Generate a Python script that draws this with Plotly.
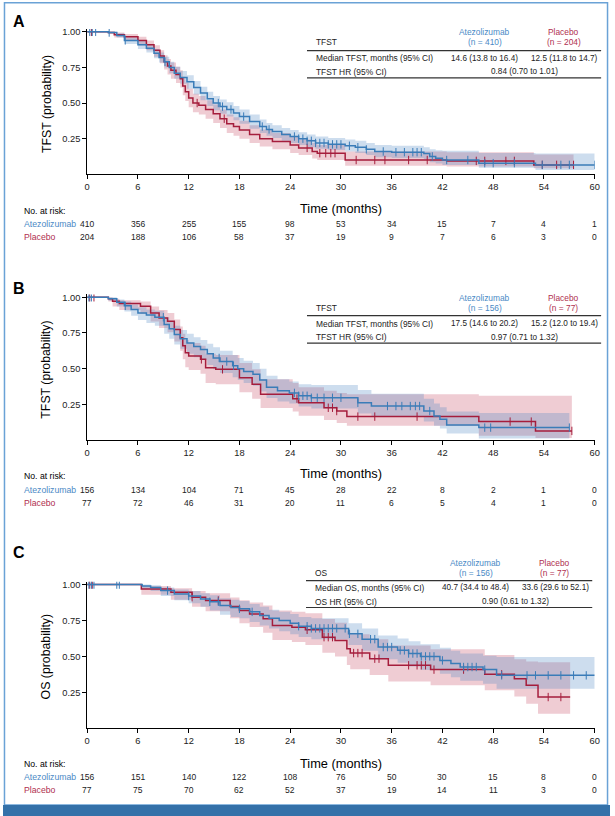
import numpy as np
import plotly.graph_objects as go

W, H = 615, 816
BLUE = "#3a7cb8"
RED = "#a51d3c"
BLUE_BAND = "rgba(74,134,194,0.28)"
RED_BAND = "rgba(190,50,80,0.25)"
BLUE_TXT = "#4b8ac6"
RED_TXT = "#b0304f"
FONT = "Liberation Sans, Arial, sans-serif"

TICKS_X = [0, 6, 12, 18, 24, 30, 36, 42, 48, 54, 60]

# ---------------- Panel A (TFST, all patients) ----------------
A_atezo_t = [0, 2.5, 3.5, 4.4, 6, 7, 7.9, 8.5, 9.1, 9.7, 10.3, 11, 11.8, 12.6, 13.4, 14.2, 14.9, 15.7, 16.5, 17.3, 18, 19.2, 20.4, 21.2, 21.9, 23, 24, 25, 26, 27, 28.5, 30.5, 31.7, 33, 34, 36, 39.8, 40.5, 41.2, 42, 46.3, 53, 60]
A_atezo_s = [1.0, 0.995, 0.975, 0.94, 0.91, 0.885, 0.85, 0.82, 0.79, 0.75, 0.71, 0.68, 0.65, 0.61, 0.57, 0.53, 0.50, 0.475, 0.455, 0.43, 0.405, 0.37, 0.335, 0.315, 0.30, 0.28, 0.265, 0.25, 0.235, 0.22, 0.21, 0.20, 0.19, 0.175, 0.16, 0.155, 0.145, 0.125, 0.112, 0.10, 0.078, 0.066, 0.066]
A_atezo_lo = [1.0, 0.99, 0.96, 0.915, 0.88, 0.855, 0.815, 0.785, 0.75, 0.71, 0.67, 0.635, 0.60, 0.56, 0.52, 0.48, 0.45, 0.425, 0.405, 0.38, 0.355, 0.32, 0.29, 0.27, 0.255, 0.235, 0.22, 0.205, 0.19, 0.18, 0.17, 0.16, 0.15, 0.135, 0.12, 0.115, 0.105, 0.085, 0.075, 0.065, 0.045, 0.03, 0.03]
A_atezo_hi = [1.0, 1.0, 0.99, 0.96, 0.935, 0.915, 0.88, 0.855, 0.825, 0.79, 0.755, 0.725, 0.695, 0.655, 0.615, 0.58, 0.55, 0.525, 0.505, 0.48, 0.455, 0.42, 0.385, 0.36, 0.345, 0.325, 0.31, 0.295, 0.28, 0.265, 0.255, 0.245, 0.235, 0.22, 0.205, 0.20, 0.19, 0.175, 0.168, 0.165, 0.15, 0.145, 0.145]
A_atezo_cens = [0.3, 0.6, 1.0, 2.6, 4.5, 9.2, 15.5, 16.0, 17.0, 18.5, 20.7, 21.5, 24.5, 25.0, 25.5, 26.0, 26.5, 27.0, 27.5, 28.0, 28.5, 29.0, 29.5, 30.0, 31.0, 32.0, 33.0, 35.0, 36.5, 37.5, 38.5, 39.0, 39.5, 40.8, 42.5, 45.0, 47.0, 48.0, 50.5, 53.8, 56.0, 57.0, 60.0]

A_pla_t = [0, 2.5, 3.2, 4.4, 6, 7, 7.9, 8.6, 9.1, 9.5, 9.9, 10.5, 11, 11.3, 11.6, 12, 12.5, 13.2, 14, 14.9, 15.7, 16.5, 17.3, 18, 19.2, 20.4, 21.9, 24, 25, 26.6, 27.2, 30.5, 42.5, 52.8, 57.5]
A_pla_s = [1.0, 0.995, 0.98, 0.965, 0.94, 0.91, 0.87, 0.83, 0.79, 0.76, 0.73, 0.70, 0.67, 0.62, 0.58, 0.535, 0.50, 0.485, 0.455, 0.425, 0.39, 0.355, 0.335, 0.31, 0.28, 0.25, 0.23, 0.205, 0.185, 0.16, 0.148, 0.10, 0.094, 0.066, 0.066]
A_pla_lo = [1.0, 0.985, 0.96, 0.94, 0.905, 0.87, 0.825, 0.78, 0.735, 0.70, 0.67, 0.64, 0.61, 0.555, 0.515, 0.47, 0.435, 0.42, 0.39, 0.36, 0.325, 0.29, 0.27, 0.25, 0.22, 0.195, 0.175, 0.15, 0.135, 0.11, 0.10, 0.06, 0.055, 0.042, 0.042]
A_pla_hi = [1.0, 1.0, 0.995, 0.985, 0.965, 0.94, 0.905, 0.87, 0.835, 0.81, 0.785, 0.755, 0.73, 0.685, 0.645, 0.60, 0.565, 0.55, 0.52, 0.49, 0.455, 0.42, 0.40, 0.375, 0.345, 0.315, 0.29, 0.265, 0.245, 0.22, 0.205, 0.16, 0.155, 0.138, 0.138]
A_pla_cens = [0.5, 13.0, 16.2, 26.0, 27.5, 28.2, 28.8, 29.3, 31.8, 34.0, 35.2, 38.0, 40.2, 46.0, 47.0, 49.5, 50.5, 53.8, 55.5, 57.5]

# ---------------- Panel B (TFST, subgroup) ----------------
B_atezo_t = [0, 2.5, 3.5, 4.4, 5.2, 6, 7, 8, 9.1, 9.7, 10.3, 11, 11.8, 12.6, 13.4, 14.2, 14.9, 15.7, 17.2, 17.8, 18.5, 19.6, 20.4, 21.2, 22.5, 23.9, 25, 26.5, 32, 33.6, 39.8, 41, 41.7, 42.5, 46.3, 57]
B_atezo_s = [1.0, 0.99, 0.965, 0.94, 0.915, 0.89, 0.875, 0.86, 0.81, 0.78, 0.74, 0.71, 0.68, 0.655, 0.635, 0.605, 0.575, 0.55, 0.52, 0.50, 0.48, 0.46, 0.42, 0.37, 0.345, 0.33, 0.31, 0.296, 0.261, 0.238, 0.203, 0.168, 0.145, 0.105, 0.087, 0.087]
B_atezo_lo = [1.0, 0.975, 0.935, 0.90, 0.87, 0.84, 0.82, 0.80, 0.745, 0.71, 0.67, 0.64, 0.605, 0.58, 0.56, 0.525, 0.495, 0.47, 0.44, 0.42, 0.40, 0.38, 0.34, 0.295, 0.27, 0.255, 0.235, 0.22, 0.185, 0.165, 0.13, 0.10, 0.08, 0.045, 0.01, 0.01]
B_atezo_hi = [1.0, 1.0, 0.985, 0.97, 0.95, 0.93, 0.915, 0.905, 0.86, 0.835, 0.80, 0.77, 0.745, 0.72, 0.70, 0.675, 0.65, 0.625, 0.595, 0.575, 0.555, 0.54, 0.50, 0.45, 0.425, 0.41, 0.39, 0.385, 0.35, 0.325, 0.29, 0.255, 0.23, 0.20, 0.19, 0.19]
B_atezo_cens = [0.2, 0.5, 4.5, 9.0, 15.6, 16.5, 17.3, 24.5, 25.0, 25.5, 26.0, 26.5, 27.2, 28.0, 29.0, 30.0, 32.0, 35.5, 36.5, 37.2, 38.2, 38.8, 39.3, 40.5, 47.0, 47.7, 57.0]

B_pla_t = [0, 2.5, 3, 3.8, 6.3, 7.5, 8.5, 9.5, 10.3, 11, 11.3, 11.6, 12, 13.4, 14, 15.2, 18, 19.5, 20.5, 24.3, 25, 28, 29.5, 30.7, 46.3, 53, 57.3]
B_pla_s = [1.0, 0.99, 0.972, 0.956, 0.937, 0.89, 0.855, 0.832, 0.774, 0.716, 0.66, 0.611, 0.588, 0.565, 0.506, 0.495, 0.436, 0.39, 0.32, 0.29, 0.261, 0.226, 0.203, 0.164, 0.129, 0.064, 0.064]
B_pla_lo = [1.0, 0.97, 0.935, 0.91, 0.885, 0.83, 0.785, 0.755, 0.69, 0.625, 0.565, 0.51, 0.49, 0.465, 0.40, 0.39, 0.335, 0.29, 0.225, 0.20, 0.17, 0.14, 0.12, 0.10, 0.03, 0.015, 0.015]
B_pla_hi = [1.0, 1.0, 0.99, 0.98, 0.97, 0.935, 0.91, 0.89, 0.845, 0.795, 0.745, 0.70, 0.68, 0.66, 0.605, 0.595, 0.54, 0.495, 0.425, 0.40, 0.37, 0.345, 0.33, 0.32, 0.31, 0.31, 0.31]
B_pla_cens = [0.3, 0.8, 13.5, 16.0, 24.8, 28.5, 29.0, 29.5, 32.0, 34.0, 39.0, 50.0, 52.5, 57.3]

# ---------------- Panel C (OS, subgroup) ----------------
C_atezo_t = [0, 6, 6.5, 7.5, 8.7, 10.3, 12, 13.4, 14.5, 15.7, 17, 18, 19.2, 20.4, 21.5, 22.7, 24, 25, 26.5, 30.9, 32.5, 34.4, 36.7, 38, 39.4, 41.7, 43, 44.1, 46.8, 48.4, 60]
C_atezo_s = [1.0, 1.0, 0.99, 0.98, 0.958, 0.935, 0.92, 0.90, 0.88, 0.854, 0.84, 0.831, 0.81, 0.785, 0.765, 0.75, 0.73, 0.71, 0.695, 0.657, 0.62, 0.565, 0.542, 0.52, 0.50, 0.472, 0.45, 0.426, 0.408, 0.368, 0.368]
C_atezo_lo = [1.0, 1.0, 0.97, 0.955, 0.92, 0.89, 0.87, 0.845, 0.82, 0.79, 0.775, 0.765, 0.74, 0.715, 0.695, 0.675, 0.655, 0.635, 0.62, 0.58, 0.54, 0.48, 0.455, 0.43, 0.405, 0.38, 0.355, 0.33, 0.31, 0.275, 0.275]
C_atezo_hi = [1.0, 1.0, 1.0, 0.995, 0.98, 0.965, 0.955, 0.94, 0.925, 0.905, 0.895, 0.885, 0.865, 0.845, 0.825, 0.81, 0.795, 0.775, 0.765, 0.73, 0.695, 0.645, 0.625, 0.605, 0.585, 0.56, 0.54, 0.52, 0.505, 0.495, 0.495]
C_atezo_cens = [0.2, 0.5, 0.8, 3.5, 3.8, 9.5, 12.0, 14.5, 15.5, 18.0, 19.5, 25.0, 26.0, 26.5, 27.0, 27.5, 28.0, 28.5, 29.0, 29.5, 30.5, 31.0, 32.0, 33.5, 34.0, 35.0, 35.5, 36.0, 37.0, 37.5, 38.0, 38.5, 39.0, 39.5, 40.0, 40.5, 41.0, 42.0, 44.5, 45.0, 45.5, 46.0, 47.0, 49.0, 52.0, 53.0, 54.5, 56.0, 57.5, 59.0]

C_pla_t = [0, 6.4, 9.9, 12.4, 14, 16.9, 18, 19.2, 20.8, 21.9, 24.2, 25.8, 27.8, 29.3, 30.7, 31.1, 33.4, 35.6, 40.6, 47, 50.5, 51.9, 53.3, 57.1]
C_pla_s = [1.0, 0.97, 0.947, 0.912, 0.889, 0.847, 0.819, 0.796, 0.762, 0.715, 0.703, 0.685, 0.634, 0.611, 0.553, 0.523, 0.484, 0.438, 0.408, 0.375, 0.345, 0.299, 0.217, 0.217]
C_pla_lo = [1.0, 0.93, 0.895, 0.845, 0.815, 0.765, 0.73, 0.705, 0.665, 0.615, 0.60, 0.58, 0.525, 0.50, 0.44, 0.41, 0.37, 0.325, 0.30, 0.265, 0.22, 0.17, 0.10, 0.10]
C_pla_hi = [1.0, 0.99, 0.975, 0.955, 0.94, 0.91, 0.89, 0.875, 0.855, 0.82, 0.81, 0.80, 0.76, 0.735, 0.68, 0.655, 0.62, 0.575, 0.55, 0.51, 0.48, 0.465, 0.46, 0.46]
C_pla_cens = [0.3, 0.6, 12.4, 15.5, 26.0, 28.0, 28.5, 29.0, 31.5, 32.0, 32.5, 34.0, 34.5, 38.0, 39.0, 39.5, 40.0, 41.0, 44.5, 49.0, 54.5, 56.0]

# ---------------- Numbers at risk ----------------
A_risk_atezo = [410, 356, 255, 155, 98, 53, 34, 15, 7, 4, 1]
A_risk_pla = [204, 188, 106, 58, 37, 19, 9, 7, 6, 3, 0]
B_risk_atezo = [156, 134, 104, 71, 45, 28, 22, 8, 2, 1, 0]
B_risk_pla = [77, 72, 46, 31, 20, 11, 6, 5, 4, 1, 0]
C_risk_atezo = [156, 151, 140, 122, 108, 76, 50, 30, 15, 8, 0]
C_risk_pla = [77, 75, 70, 62, 52, 37, 19, 14, 11, 3, 0]

# ---------------- Summary tables ----------------
A_table = {"endpoint": "TFST", "n_atezo": "(n = 410)", "n_pla": "(n = 204)",
           "med_label": "Median TFST, months (95% CI)", "med_atezo": "14.6 (13.8 to 16.4)",
           "med_pla": "12.5 (11.8 to 14.7)", "hr_label": "TFST HR (95% CI)", "hr": "0.84 (0.70 to 1.01)"}
B_table = {"endpoint": "TFST", "n_atezo": "(n = 156)", "n_pla": "(n = 77)",
           "med_label": "Median TFST, months (95% CI)", "med_atezo": "17.5 (14.6 to 20.2)",
           "med_pla": "15.2 (12.0 to 19.4)", "hr_label": "TFST HR (95% CI)", "hr": "0.97 (0.71 to 1.32)"}
C_table = {"endpoint": "OS", "n_atezo": "(n = 156)", "n_pla": "(n = 77)",
           "med_label": "Median OS, months (95% CI)", "med_atezo": "40.7 (34.4 to 48.4)",
           "med_pla": "33.6 (29.6 to 52.1)", "hr_label": "OS HR (95% CI)", "hr": "0.90 (0.61 to 1.32)"}


def px(x):
    return x / W


def py(y):
    return 1 - y / H


def step_at(ts, ss, t):
    ts = np.asarray(ts)
    idx = np.searchsorted(ts, t, side="right") - 1
    return float(np.asarray(ss)[max(idx, 0)])


fig = go.Figure()
annotations = []
shapes = []

panels = [
    dict(key="", letter="A", ytitle="TFST (probability)", zero=172.7, unit=142.8, letter_y=20,
         atezo=(A_atezo_t, A_atezo_s, A_atezo_lo, A_atezo_hi, A_atezo_cens),
         pla=(A_pla_t, A_pla_s, A_pla_lo, A_pla_hi, A_pla_cens),
         risk=(A_risk_atezo, A_risk_pla), table=A_table,
         time_y=206.7, risk_y=(209.5, 222.7, 236.0),
         tab=dict(x0=308, x1=606, xl=316, xa=488, xp=568, xh=528, yh1=30, yh2=40.5, l1=48.7, r1=56.5, r2=70, l2=76)),
    dict(key="2", letter="B", ytitle="TFST (probability)", zero=439.1, unit=143.1, letter_y=287,
         atezo=(B_atezo_t, B_atezo_s, B_atezo_lo, B_atezo_hi, B_atezo_cens),
         pla=(B_pla_t, B_pla_s, B_pla_lo, B_pla_hi, B_pla_cens),
         risk=(B_risk_atezo, B_risk_pla), table=B_table,
         time_y=473, risk_y=(475.5, 489, 502),
         tab=dict(x0=308, x1=606, xl=316, xa=488, xp=568, xh=528, yh1=296.7, yh2=306.7, l1=314.3, r1=322.3, r2=336, l2=342)),
    dict(key="3", letter="C", ytitle="OS (probability)", zero=728.0, unit=144.0, letter_y=552,
         atezo=(C_atezo_t, C_atezo_s, C_atezo_lo, C_atezo_hi, C_atezo_cens),
         pla=(C_pla_t, C_pla_s, C_pla_lo, C_pla_hi, C_pla_cens),
         risk=(C_risk_atezo, C_risk_pla), table=C_table,
         time_y=763, risk_y=(764, 777, 790),
         tab=dict(x0=307, x1=597, xl=315, xa=479, xp=559, xh=519, yh1=562, yh2=572, l1=580, r1=587.3, r2=601, l2=607)),
]

YMAX = 1.02
X_LEFT, X_RIGHT = 85.3, 599.5

for p in panels:
    k = p["key"]
    xa = "x" + k
    ya = "y" + k
    top_px = p["zero"] - YMAX * p["unit"]
    for (ts, ss, lo, hi, cens), band in [(p["pla"], RED_BAND), (p["atezo"], BLUE_BAND)]:
        fig.add_trace(go.Scatter(x=ts, y=lo, mode="lines", line=dict(width=0, shape="hv"),
                                 xaxis=xa, yaxis=ya, showlegend=False, hoverinfo="skip"))
        fig.add_trace(go.Scatter(x=ts, y=hi, mode="lines", line=dict(width=0, shape="hv"),
                                 fill="tonexty", fillcolor=band,
                                 xaxis=xa, yaxis=ya, showlegend=False, hoverinfo="skip"))
    for (ts, ss, lo, hi, cens), col in [(p["pla"], RED), (p["atezo"], BLUE)]:
        fig.add_trace(go.Scatter(x=ts, y=ss, mode="lines", line=dict(width=1.5, color=col, shape="hv"),
                                 xaxis=xa, yaxis=ya, showlegend=False))
        cy = [step_at(ts, ss, c) for c in cens]
        fig.add_trace(go.Scatter(x=cens, y=cy, mode="markers",
                                 marker=dict(symbol="line-ns", size=6, line=dict(width=1, color=col)),
                                 xaxis=xa, yaxis=ya, showlegend=False))

    axis_common = dict(showgrid=False, zeroline=False, showline=True, linecolor="black", linewidth=1,
                       ticks="outside", ticklen=4, tickcolor="black", tickwidth=1,
                       tickfont=dict(family=FONT, size=9.3, color="#222"))
    fig.update_layout(**{
        "xaxis" + k: dict(domain=[px(X_LEFT), px(X_RIGHT)], range=[0, 60], tickvals=TICKS_X,
                          anchor=ya, **axis_common),
        "yaxis" + k: dict(domain=[py(p["zero"]), py(top_px)], range=[0, YMAX],
                          tickvals=[0.25, 0.5, 0.75, 1.0], ticktext=["0.25", "0.50", "0.75", "1.00"],
                          anchor=xa, **axis_common),
    })

    annotations.append(dict(x=px(8.5), y=py(p["letter_y"]), xref="paper", yref="paper", text="<b>%s</b>" % p["letter"],
                            showarrow=False, xanchor="left", yanchor="middle",
                            font=dict(family=FONT, size=16, color="black")))
    annotations.append(dict(x=px(44), y=py((p["zero"] + top_px) / 2 + 2), xref="paper", yref="paper",
                            text=p["ytitle"], textangle=-90, showarrow=False,
                            xanchor="center", yanchor="middle",
                            font=dict(family=FONT, size=12.3, color="black")))
    annotations.append(dict(x=30, y=py(p["time_y"]), xref=xa, yref="paper", text="Time (months)",
                            showarrow=False, xanchor="center", yanchor="middle",
                            font=dict(family=FONT, size=12.8, color="black")))
    ry_head, ry_a, ry_p = p["risk_y"]
    annotations.append(dict(x=px(19.5), y=py(ry_head), xref="paper", yref="paper", text="No. at risk:",
                            showarrow=False, xanchor="left", yanchor="middle",
                            font=dict(family=FONT, size=8.7, color="black")))
    annotations.append(dict(x=px(19.5), y=py(ry_a), xref="paper", yref="paper", text="Atezolizumab",
                            showarrow=False, xanchor="left", yanchor="middle",
                            font=dict(family=FONT, size=8.7, color=BLUE_TXT)))
    annotations.append(dict(x=px(19.5), y=py(ry_p), xref="paper", yref="paper", text="Placebo",
                            showarrow=False, xanchor="left", yanchor="middle",
                            font=dict(family=FONT, size=8.7, color=RED_TXT)))
    ra, rp = p["risk"]
    for t, va, vp in zip(TICKS_X, ra, rp):
        annotations.append(dict(x=t, y=py(ry_a), xref=xa, yref="paper", text=str(va), showarrow=False,
                                xanchor="center", yanchor="middle", font=dict(family=FONT, size=8.5, color="#222")))
        annotations.append(dict(x=t, y=py(ry_p), xref=xa, yref="paper", text=str(vp), showarrow=False,
                                xanchor="center", yanchor="middle", font=dict(family=FONT, size=8.5, color="#222")))

    tb = p["tab"]
    tt = p["table"]

    def T(x, y, text, anchor="center", color="#222", size=8.4):
        annotations.append(dict(x=px(x), y=py(y), xref="paper", yref="paper", text=text, showarrow=False,
                                xanchor=anchor, yanchor="middle",
                                font=dict(family=FONT, size=size, color=color)))

    T(tb["xl"] - 1, tb["yh2"], tt["endpoint"], "left")
    T(tb["xa"], tb["yh1"], "Atezolizumab", color=BLUE_TXT)
    T(tb["xa"], tb["yh2"], tt["n_atezo"], color=BLUE_TXT)
    T(tb["xp"], tb["yh1"], "Placebo", color=RED_TXT)
    T(tb["xp"], tb["yh2"], tt["n_pla"], color=RED_TXT)
    T(tb["xl"] - 1, tb["r1"], tt["med_label"], "left")
    T(tb["xa"], tb["r1"], tt["med_atezo"], size=8.2)
    T(tb["xp"] + 1, tb["r1"], tt["med_pla"], size=8.2)
    T(tb["xl"] - 1, tb["r2"], tt["hr_label"], "left")
    T(tb["xh"], tb["r2"], tt["hr"], size=8.2)
    for yy in (tb["l1"], tb["l2"]):
        shapes.append(dict(type="line", xref="paper", yref="paper", x0=px(tb["x0"]), x1=px(tb["x1"]),
                           y0=py(yy), y1=py(yy), line=dict(color="#333", width=1.2)))

shapes.append(dict(type="rect", xref="paper", yref="paper", x0=px(1.5), x1=px(612.5), y0=py(805), y1=py(0.8),
                   line=dict(color="#6aa2d6", width=1.5), fillcolor="rgba(0,0,0,0)"))
shapes.append(dict(type="rect", xref="paper", yref="paper", x0=0, x1=1, y0=0, y1=py(805),
                   line=dict(width=0), fillcolor="#3471a9"))

fig.update_layout(width=W, height=H, margin=dict(l=0, r=0, t=0, b=0),
                  paper_bgcolor="white", plot_bgcolor="white",
                  annotations=annotations, shapes=shapes, showlegend=False,
                  font=dict(family=FONT))
fig.write_html("out.html", config={"displayModeBar": False},
               post_script="document.body.style.margin='0';document.body.style.overflow='hidden';")
